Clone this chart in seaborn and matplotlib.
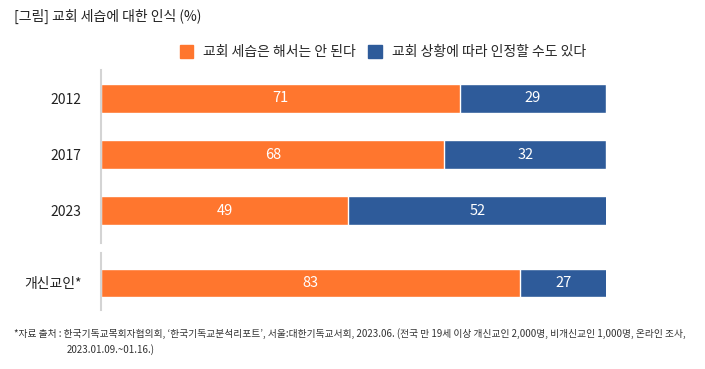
import pandas as pd
import seaborn as sns
import matplotlib.pyplot as plt
from matplotlib.patches import Patch

sns.set_style("white")
plt.rcParams['font.family'] = ['Noto Sans CJK KR', 'DejaVu Sans']

# Data
years = ["2012", "2017", "2023"]
not_allowed = [71, 68, 49]
can_accept = [29, 32, 52]

group = ["개신교인*"]
group_not_allowed = [83]
group_can_accept = [27]

orange = "#FF762E"
blue = "#2E5B9A"
label_not = "교회 세습은 해서는 안 된다"
label_can = "교회 상황에 따라 인정할 수도 있다"

df_top = pd.DataFrame({"cat": years, "a": not_allowed, "b": can_accept})
df_top["total"] = df_top["a"] + df_top["b"]
df_bot = pd.DataFrame({"cat": group, "a": group_not_allowed, "b": group_can_accept})
df_bot["total"] = df_bot["a"] + df_bot["b"]

fig = plt.figure(figsize=(7.05, 3.69), dpi=100)
ax1 = fig.add_axes([0.1433, 0.3415, 0.7163, 0.4688])
ax2 = fig.add_axes([0.1433, 0.1599, 0.7163, 0.1545])


def draw(ax, df, ylim):
    # blue = full stack, orange drawn over it; axis clipped at 100
    sns.barplot(data=df, x="total", y="cat", orient="h", color=blue,
                width=0.51, ax=ax, saturation=1)
    sns.barplot(data=df, x="a", y="cat", orient="h", color=orange,
                width=0.51, ax=ax, saturation=1)
    ax.set_xlim(0, 100)
    ax.set_ylim(*ylim)
    for i, row in df.iterrows():
        ax.text(row["a"] / 2, i, str(row["a"]), color="white", fontsize=10.5,
                ha="center", va="center")
        right = min(row["total"], 100)
        ax.text((row["a"] + right) / 2, i, str(row["b"]), color="white",
                fontsize=10.5, ha="center", va="center")
    ax.set_xlabel("")
    ax.set_ylabel("")
    ax.set_xticks([])
    for s in ["top", "right", "bottom"]:
        ax.spines[s].set_visible(False)
    ax.spines["left"].set_color("#d4d4d4")
    ax.spines["left"].set_linewidth(1.5)
    ax.tick_params(axis="y", length=0, pad=14, labelsize=10, labelcolor="#222222")


draw(ax1, df_top, (2.57, -0.5))
draw(ax2, df_bot, (0.48, -0.53))

fig.text(0.02, 0.955, "[그림] 교회 세습에 대한 인식 (%)", fontsize=10,
         color="#222222", va="center")

handles = [Patch(color=orange, label=label_not), Patch(color=blue, label=label_can)]
fig.legend(handles=handles, loc="center", bbox_to_anchor=(0.543, 0.858), ncol=2,
           frameon=False, fontsize=10, handlelength=1.0, handleheight=1.0,
           columnspacing=0.9, handletextpad=0.7)

fig.text(0.02, 0.097,
         "*자료 출처 : 한국기독교목회자협의회, ‘한국기독교분석리포트’, 서울:대한기독교서회, 2023.06. "
         "(전국 만 19세 이상 개신교인 2,000명, 비개신교인 1,000명, 온라인 조사,",
         fontsize=7, color="#333333", va="center")
fig.text(0.095, 0.054, "2023.01.09.~01.16.)", fontsize=7, color="#333333", va="center")

fig.savefig("out.png", dpi=100)
